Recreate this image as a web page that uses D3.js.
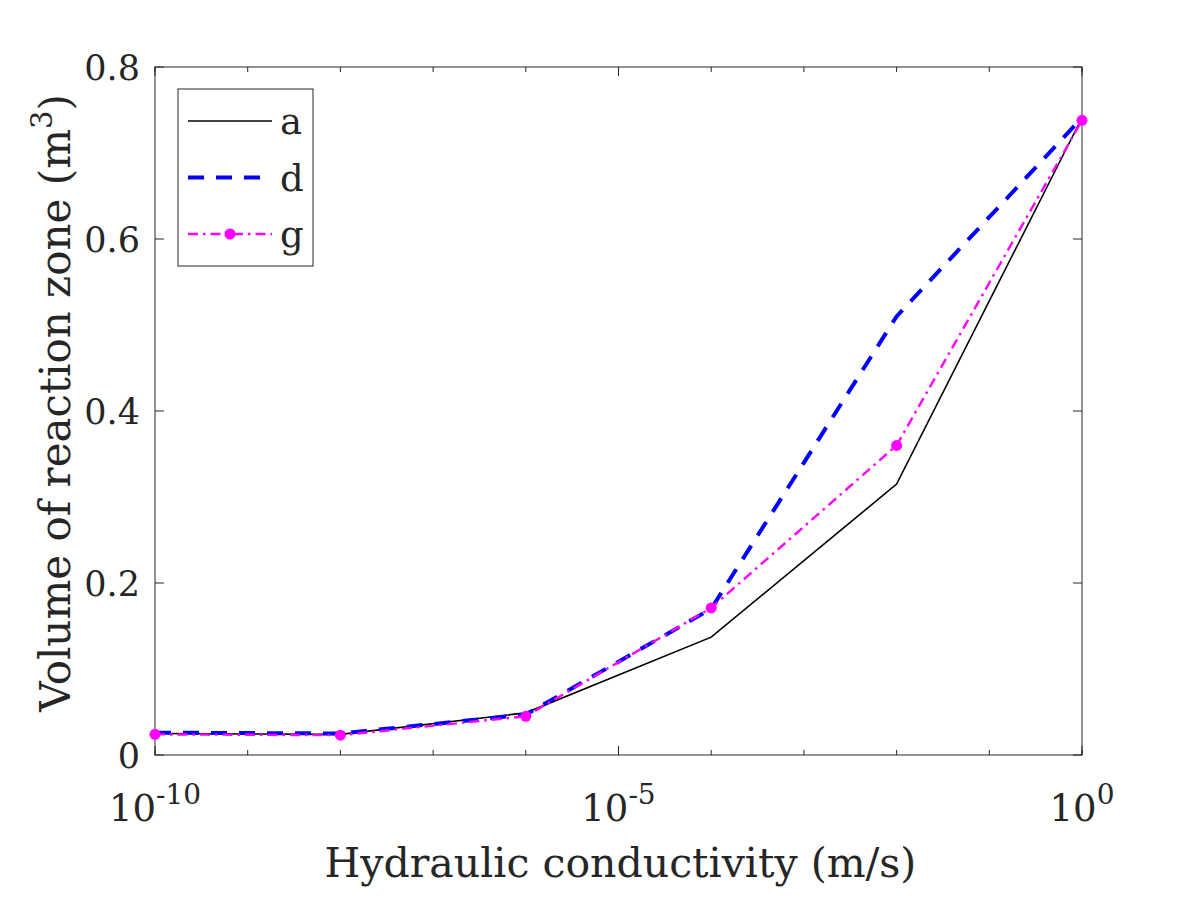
<!DOCTYPE html>
<html>
<head>
<meta charset="utf-8">
<script src="https://cdn.jsdelivr.net/npm/d3@7"></script>
<style>
  body { margin: 0; background: #fff; }
  text { font-family: "DejaVu Serif", "Liberation Serif", serif; fill: #262626; }
</style>
</head>
<body>
<svg id="chart" width="1196" height="897"></svg>
<script>
// values
var conductivity = [1e-10, 1e-8, 1e-6, 1e-4, 1e-2, 1e0];
var seriesA = [0.025, 0.024, 0.049, 0.137, 0.315, 0.741];
var seriesD = [0.026, 0.025, 0.047, 0.170, 0.510, 0.741];
var seriesG = [0.024, 0.023, 0.045, 0.171, 0.360, 0.738];
var seriesNames = ["a", "d", "g"];
var yTicks = [0, 0.2, 0.4, 0.6, 0.8];
var xMajor = [1e-10, 1e-5, 1e0];
var xMinor = d3.range(-10, 1).map(e => Math.pow(10, e));

var svg = d3.select("#chart"),
    margin = { top: 67, right: 114, bottom: 142, left: 155 },
    width = 1196 - margin.left - margin.right,
    height = 897 - margin.top - margin.bottom;

var g = svg.append("g")
    .attr("transform", `translate(${margin.left},${margin.top})`);

var x = d3.scaleLog().domain([1e-10, 1e0]).range([0, width]);
var y = d3.scaleLinear().domain([0, 0.8]).range([height, 0]);

var axisColor = "#262626";

// box
g.append("rect")
    .attr("width", width).attr("height", height)
    .attr("fill", "none").attr("stroke", axisColor).attr("stroke-width", 1);

// ticks on all four sides
function ticks(vals, len, horiz) {
    vals.forEach(v => {
        if (horiz) {
            var px = x(v);
            g.append("line").attr("x1", px).attr("x2", px).attr("y1", height).attr("y2", height - len)
                .attr("stroke", axisColor);
            g.append("line").attr("x1", px).attr("x2", px).attr("y1", 0).attr("y2", len)
                .attr("stroke", axisColor);
        } else {
            var py = y(v);
            g.append("line").attr("x1", 0).attr("x2", len).attr("y1", py).attr("y2", py)
                .attr("stroke", axisColor);
            g.append("line").attr("x1", width).attr("x2", width - len).attr("y1", py).attr("y2", py)
                .attr("stroke", axisColor);
        }
    });
}
ticks(xMinor, 5, true);
ticks(xMajor, 9, true);
ticks(yTicks, 9, false);

// y tick labels
g.selectAll(".ylab")
    .data(yTicks)
    .join("text")
    .attr("x", -15)
    .attr("y", d => y(d))
    .attr("dy", "0.36em")
    .attr("text-anchor", "end")
    .attr("font-size", 35)
    .text(d => d === 0 ? "0" : d3.format(".1f")(d));

// x tick labels as 10^n
var xl = g.selectAll(".xlab")
    .data(xMajor)
    .join("text")
    .attr("x", d => x(d))
    .attr("y", height + 66)
    .attr("text-anchor", "middle")
    .attr("font-size", 37);
xl.append("tspan").text("10");
xl.append("tspan")
    .attr("dy", -17)
    .attr("font-size", 28)
    .text(d => Math.round(Math.log10(d)));

// axis labels
svg.append("text")
    .attr("x", margin.left + width / 2 + 2)
    .attr("y", 877)
    .attr("text-anchor", "middle")
    .attr("font-size", 41)
    .text("Hydraulic conductivity (m/s)");

var ylab = svg.append("text")
    .attr("transform", `translate(70, ${margin.top + height / 2 - 8}) rotate(-90)`)
    .attr("text-anchor", "middle")
    .attr("font-size", 42);
ylab.append("tspan").text("Volume of reaction zone (m");
ylab.append("tspan").attr("dy", -18).attr("font-size", 29).text("3");
ylab.append("tspan").attr("dy", 18).text(")");

// series
var series = [
    { name: seriesNames[0], values: seriesA, color: "#000000", width: 1.6, dash: null, marker: false },
    { name: seriesNames[1], values: seriesD, color: "#0000ff", width: 4, dash: "16,12", marker: false },
    { name: seriesNames[2], values: seriesG, color: "#ff00ff", width: 2.4, dash: "10,5,2.5,5", marker: true }
];

var line = d3.line()
    .x((d, i) => x(conductivity[i]))
    .y(d => y(d));

series.forEach(s => {
    g.append("path")
        .datum(s.values)
        .attr("fill", "none")
        .attr("stroke", s.color)
        .attr("stroke-width", s.width)
        .attr("stroke-dasharray", s.dash)
        .attr("d", line);
    if (s.marker) {
        g.selectAll(null)
            .data(s.values)
            .join("circle")
            .attr("cx", (d, i) => x(conductivity[i]))
            .attr("cy", d => y(d))
            .attr("r", 5.5)
            .attr("fill", s.color);
    }
});

// legend
var legend = svg.append("g").attr("transform", "translate(178, 89)");
legend.append("rect")
    .attr("width", 135).attr("height", 177)
    .attr("fill", "white").attr("stroke", axisColor).attr("stroke-width", 1);

series.forEach((s, i) => {
    var ly = 32 + i * 56.5;
    legend.append("line")
        .attr("x1", 10).attr("x2", 94)
        .attr("y1", ly).attr("y2", ly)
        .attr("stroke", s.color)
        .attr("stroke-width", s.width)
        .attr("stroke-dasharray", s.dash);
    if (s.marker) {
        legend.append("circle").attr("cx", 52).attr("cy", ly).attr("r", 5.5).attr("fill", s.color);
    }
    legend.append("text")
        .attr("x", 102)
        .attr("y", ly)
        .attr("dy", "0.36em")
        .attr("font-size", 37)
        .text(s.name);
});
</script>
</body>
</html>
